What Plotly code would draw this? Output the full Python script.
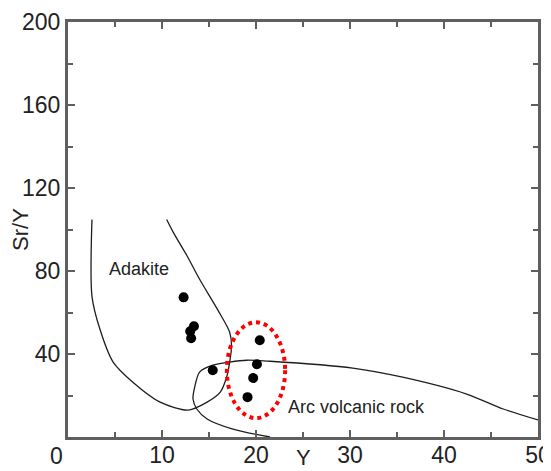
import plotly.graph_objects as go

# Adakite field boundary (Y, Sr/Y)
adakite_y = [2.55, 2.55, 3.4, 4.8, 6.9, 9.8, 12.8, 14.8, 16.2, 16.9, 17.2, 17.4, 17.2, 15.9, 14.0, 12.7, 11.2, 10.5]
adakite_sry = [104.8, 67.8, 51.9, 36.1, 26.4, 16.8, 13.0, 16.8, 21.6, 29.3, 36.1, 43.8, 50.5, 61.5, 76.0, 87.0, 98.6, 104.8]

# Arc volcanic rock field boundary
arc_y = [21.5, 17.55, 14.8, 13.7, 13.3, 13.5, 14.0, 15.4, 17.2, 19.0, 21.5, 30.3, 35.6, 42.4, 46.3, 50.0]
arc_sry = [0.0, 3.8, 8.7, 13.5, 18.3, 24.5, 31.3, 34.6, 36.1, 37.0, 36.5, 33.2, 28.8, 20.7, 13.5, 8.2]

# Samples
sample_y = [12.3, 13.4, 13.0, 13.1, 15.4, 20.4, 20.1, 19.7, 19.1]
sample_sry = [67.3, 53.4, 51.0, 47.6, 32.2, 46.6, 35.1, 28.4, 19.2]

# Highlight ellipse: [x0, x1], [y0, y1]
ellipse_x = [16.9, 23.1]
ellipse_y = [9.1, 55.3]

x_ticks = [10, 20, 30, 40, 50]
y_ticks = [40, 80, 120, 160, 200]

FONT = "Liberation Sans, Arial"

fig = go.Figure()
fig.add_trace(go.Scatter(x=adakite_y, y=adakite_sry, mode="lines",
                         line=dict(color="#1e1e1e", width=1.3, shape="spline", smoothing=0.8),
                         hoverinfo="skip", showlegend=False))
fig.add_trace(go.Scatter(x=arc_y, y=arc_sry, mode="lines",
                         line=dict(color="#1e1e1e", width=1.3, shape="spline", smoothing=0.8),
                         hoverinfo="skip", showlegend=False))
fig.add_trace(go.Scatter(x=sample_y, y=sample_sry, mode="markers",
                         marker=dict(color="black", size=10, line=dict(width=0)),
                         showlegend=False))

fig.add_shape(type="circle", xref="x", yref="y",
              x0=ellipse_x[0], x1=ellipse_x[1], y0=ellipse_y[0], y1=ellipse_y[1],
              line=dict(color="#ff0000", width=4, dash="dot"))

fig.add_annotation(x=7.6, y=80.8, text="Adakite", showarrow=False,
                   font=dict(family=FONT, size=18, color="#222"))
fig.add_annotation(x=30.7, y=14.4, text="Arc volcanic rock", showarrow=False,
                   font=dict(family=FONT, size=18, color="#222"))
fig.add_annotation(x=0, y=0, xref="x", yref="y", text="0", showarrow=False,
                   xanchor="right", yanchor="top", xshift=-3, yshift=-4,
                   font=dict(family=FONT, size=23, color="#222"))
# x-axis title, sitting low at the bottom edge, between the 20 and 30 labels
fig.add_annotation(x=0.5, y=0, xref="paper", yref="paper", text="Y", showarrow=False,
                   xanchor="center", yanchor="bottom", yshift=-34, borderpad=0,
                   font=dict(family=FONT, size=22, color="#222"))

axis_common = dict(showgrid=False, zeroline=False, showline=True, linecolor="#5f5f5f",
                   linewidth=3, mirror="ticks", ticks="inside", tickcolor="#5f5f5f",
                   tickwidth=1.5, ticklen=7, automargin=False,
                   tickfont=dict(family=FONT, size=23, color="#222"))

fig.update_xaxes(range=[0, 50], tickvals=x_ticks, ticktext=[str(v) for v in x_ticks],
                 minor=dict(ticks="inside", dtick=5, ticklen=5, tickcolor="#5f5f5f", tickwidth=1.5),
                 ticklabelstandoff=-5,
                 **axis_common)
fig.update_yaxes(range=[0, 200], tickvals=y_ticks, ticktext=[str(v) for v in y_ticks],
                 minor=dict(ticks="inside", dtick=20, ticklen=5, tickcolor="#5f5f5f", tickwidth=1.5),
                 title=dict(text="Sr/Y", font=dict(family=FONT, size=22, color="#222"), standoff=0),
                 **axis_common)

# page body has an 8px margin, so the figure is sized/offset to compensate
fig.update_layout(width=543, height=463, margin=dict(l=60, r=13, t=14, b=34),
                  plot_bgcolor="white", paper_bgcolor="white")

fig.write_html("out.html")
